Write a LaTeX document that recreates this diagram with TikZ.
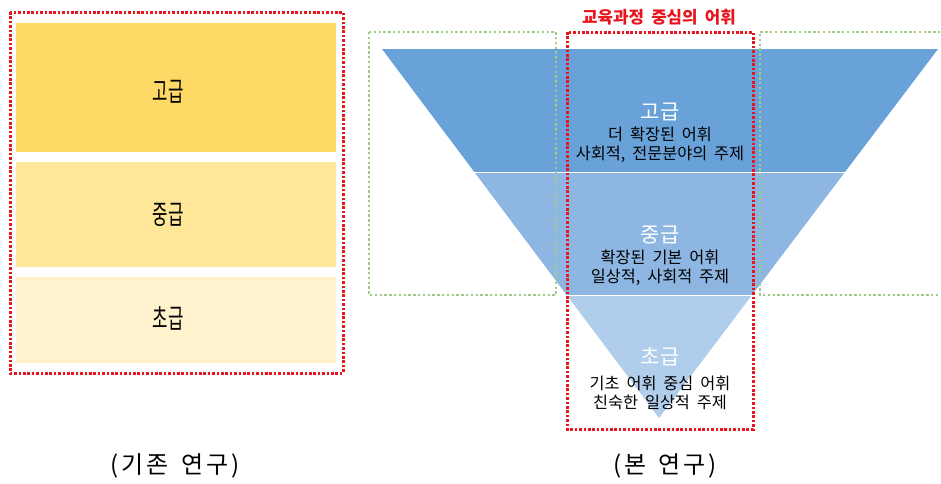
\documentclass[tikz,border=0pt]{standalone}
\usepackage{fontspec}
\usetikzlibrary{calc}
\newfontfamily\kr{Noto Sans CJK KR}
\newfontfamily\krw[WordSpace=1.9]{Noto Sans CJK KR}
\definecolor{gold1}{HTML}{FFD966}
\definecolor{gold2}{HTML}{FFE699}
\definecolor{gold3}{HTML}{FFF2CC}
\definecolor{blue1}{HTML}{68A2D9}
\definecolor{blue2}{HTML}{8DB6E2}
\definecolor{blue3}{HTML}{B0CDEB}
\definecolor{reddot}{HTML}{E8141E}
\definecolor{greendot}{HTML}{9FCB84}
\tikzset{
  ybox/.style={draw=none, minimum width=320pt, inner sep=0pt},
  redframe/.style={draw=reddot, line width=3pt, dash pattern=on 2.6pt off 1.8pt},
  greenframe/.style={draw=greendot, line width=2.6pt, dash pattern=on 2.4pt off 2.4pt},
  leftlabel/.style={font=\kr\fontsize{27}{29}\selectfont, inner sep=0pt},
  levellabel/.style={font=\kr\fontsize{21}{23}\selectfont, text=white, inner sep=0pt},
  desclabel/.style={font=\krw\fontsize{16.3}{19}\selectfont, align=center, inner sep=0pt},
  caption/.style={font=\kr\fontsize{24}{26}\selectfont, inner sep=0pt},
  titlelabel/.style={font=\kr\bfseries\fontsize{16.8}{18}\selectfont, text=reddot, inner sep=0pt}
}
\newcommand{\ks}{\kern3pt}
\begin{document}
\begin{tikzpicture}[x=1pt,y=-1pt]
\useasboundingbox (0,0) rectangle (941,483);
\fill[white] (0,0) rectangle (941,483);
% left: existing study
\node[ybox, fill=gold1, minimum height=129pt] (b1) at (176,87.5) {};
\node[ybox, fill=gold2, minimum height=105pt] (b2) at (176,214.5) {};
\node[ybox, fill=gold3, minimum height=86pt] (b3) at (176,320) {};
\node[leftlabel] (l1) at (168,92) {\scalebox{0.62}[1]{고급}};
\node[leftlabel] (l2) at (168,215) {\scalebox{0.62}[1]{중급}};
\node[leftlabel] (l3) at (168,318) {\scalebox{0.62}[1]{초급}};
\draw[redframe] (10,12) rectangle (343,373);
% right: inverted triangle
\coordinate (tl) at (382,49);
\coordinate (tr) at (938,49);
\coordinate (ap) at (659,418);
\coordinate (m1l) at ($(tl)!1/3!(ap)$);
\coordinate (m1r) at ($(tr)!1/3!(ap)$);
\coordinate (m2l) at ($(tl)!2/3!(ap)$);
\coordinate (m2r) at ($(tr)!2/3!(ap)$);
\fill[blue1] (tl) -- (tr) -- (m1r) -- (m1l) -- cycle;
\fill[blue2] (m1l) -- (m1r) -- (m2r) -- (m2l) -- cycle;
\fill[blue3] (m2l) -- (m2r) -- (ap) -- cycle;
\draw[white, line width=0.8pt] (m1l) -- (m1r);
\draw[white, line width=0.8pt] (m2l) -- (m2r);
\node[levellabel] (h) at (660,112) {고급};
\node[desclabel] (hd) at (660,144.5) {더 확장된 어휘\\사회적, 전문분야의 주제};
\node[levellabel] (m) at (660,235) {중급};
\node[desclabel] (md) at (660,267.5) {확장된 기본 어휘\\일상적, 사회적 주제};
\node[levellabel] (e) at (660,357) {초급};
\node[desclabel] (ed) at (660,392.5) {기초 어휘 중심 어휘\\친숙한 일상적 주제};
% frames
\draw[greenframe] (369,32) rectangle (556,295);
\draw[greenframe] (950,32) -- (760,32) -- (760,295) -- (950,295);
\draw[redframe] (567,32) rectangle (753,429);
\node[titlelabel] (t) at (659,17) {교육과정 중심의 어휘};
% captions
\node[caption] (c1) at (175,466) {(\ks 기\ks 존\kern12pt 연\ks 구\ks )};
\node[caption] (c2) at (665,466) {(\ks 본\kern12pt 연\ks 구\ks )};
\end{tikzpicture}
\end{document}
